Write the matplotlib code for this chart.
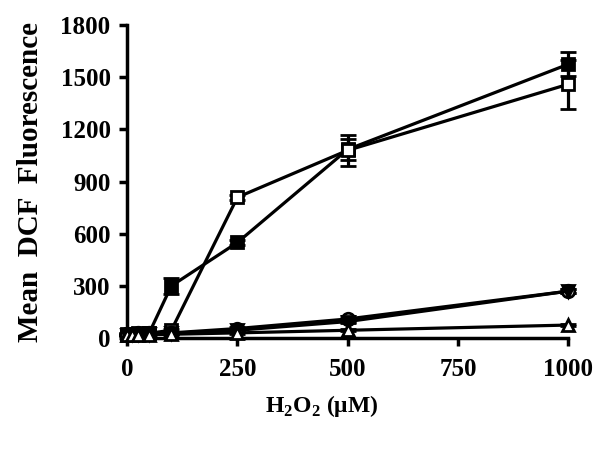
import matplotlib
matplotlib.use("Agg")
import matplotlib.pyplot as plt
import numpy as np

plt.rcParams['font.family'] = ['Liberation Serif', 'DejaVu Serif']
plt.rcParams['mathtext.fontset'] = 'custom'
plt.rcParams['mathtext.rm'] = 'Liberation Serif:bold'
plt.rcParams['mathtext.bf'] = 'Liberation Serif:bold'

h2o2 = [0, 10, 25, 50, 100, 250, 500, 1000]
filled_sq = [25, 25, 28, 30, 300, 550, 1085, 1575]
filled_sq_err = [5, 5, 5, 5, 45, 15, 60, 70]
open_sq = [20, 22, 25, 28, 45, 810, 1080, 1460]
open_sq_err = [5, 5, 5, 5, 10, 15, 90, 140]
open_circ = [25, 25, 28, 30, 30, 55, 110, 270]
open_circ_err = [5, 5, 5, 5, 5, 10, 15, 10]
filled_tri = [20, 22, 24, 26, 28, 45, 95, 270]
filled_tri_err = [5, 5, 5, 5, 5, 10, 10, 10]
open_tri = [15, 16, 18, 20, 22, 30, 45, 75]
open_tri_err = [3, 3, 3, 3, 3, 5, 5, 5]

xticks = [0, 250, 500, 750, 1000]
yticks = [0, 300, 600, 900, 1200, 1500, 1800]

fig = plt.figure(figsize=(6, 4.49), dpi=100)
ax = fig.add_axes([0.212, 0.247, 0.735, 0.697])

series = [
    (filled_sq, filled_sq_err, 's', 'black'),
    (open_sq, open_sq_err, 's', 'white'),
    (open_circ, open_circ_err, 'o', 'white'),
    (filled_tri, filled_tri_err, 'v', 'black'),
    (open_tri, open_tri_err, '^', 'white'),
]
for y, e, m, fc in series:
    ax.errorbar(h2o2, y, yerr=e, marker=m, markersize=9, markerfacecolor=fc,
                markeredgecolor='black', markeredgewidth=2, color='black',
                linewidth=2.3, elinewidth=2.3, capsize=6, capthick=2.3,
                clip_on=False, zorder=3)

ax.set_xlim(0, 1000)
ax.set_ylim(0, 1800)
ax.set_xticks(xticks)
ax.set_yticks(yticks)
for s in ['top', 'right']:
    ax.spines[s].set_visible(False)
for s in ['left', 'bottom']:
    ax.spines[s].set_linewidth(2.5)
ax.tick_params(width=2.5, length=6, labelsize=18)
ax.tick_params(axis='y', pad=6)
ax.tick_params(axis='x', pad=8)
for lab in ax.get_xticklabels() + ax.get_yticklabels():
    lab.set_fontweight('bold')

ax.set_ylabel('Mean  DCF  Fluorescence', fontsize=21, fontweight='bold', labelpad=12)
ax.set_xlabel(r'H$_2$O$_2$ ($\mathbf{\mu}$M)', fontsize=17, fontweight='bold')
ax.xaxis.set_label_coords(0.442, -0.175)

fig.savefig('out.png', dpi=100)
